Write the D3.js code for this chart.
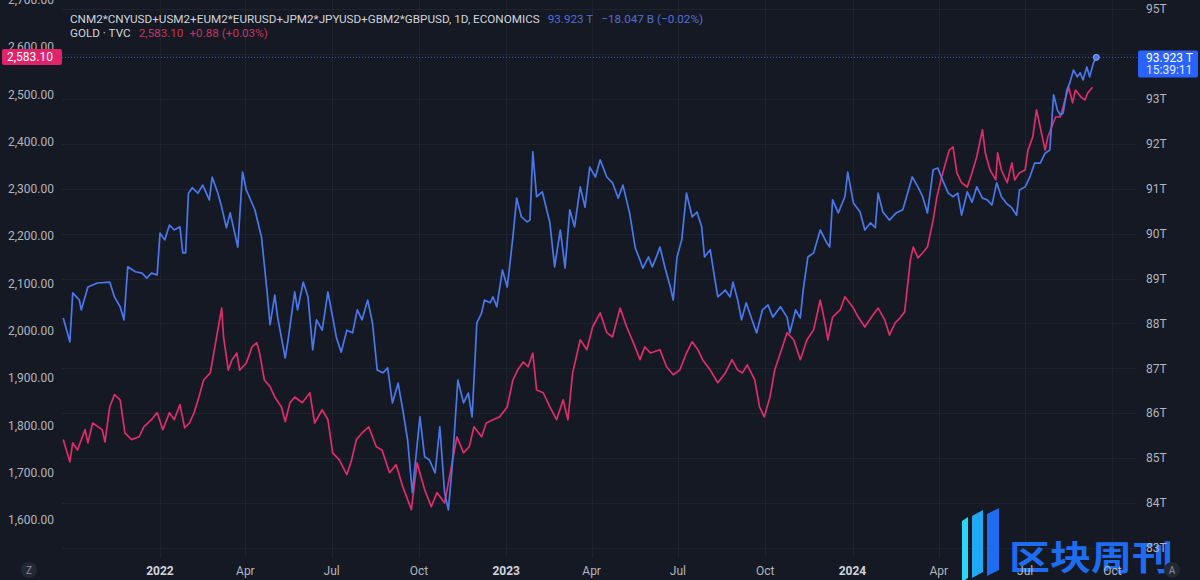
<!DOCTYPE html>
<html><head><meta charset="utf-8">
<script src="https://cdn.jsdelivr.net/npm/d3@7"></script>
<style>
html,body{margin:0;padding:0;background:#151924;}
svg{display:block;font-family:Roboto,"Noto Sans",sans-serif;}
</style></head>
<body><svg id="c" width="1200" height="580"></svg>
<script>
// ---- DATA ----
const m2Series = [ // global M2 in USD, trillions
["2021-09-21",88.12],["2021-09-28",87.59],["2021-10-01",88.68],["2021-10-08",88.52],["2021-10-10",88.30],["2021-10-17",88.81],["2021-10-27",88.90],["2021-11-09",88.92],["2021-11-14",88.59],["2021-11-20",88.37],["2021-11-24",88.08],["2021-11-28",89.26],["2021-12-06",89.15],["2021-12-13",89.12],["2021-12-18",89.01],["2021-12-23",89.12],["2021-12-29",89.08],
["2022-01-01",90.01],["2022-01-06",89.86],["2022-01-11",90.19],["2022-01-16",90.08],["2022-01-22",90.15],["2022-01-25",89.57],["2022-01-28",89.57],["2022-01-31",90.90],["2022-02-04",91.02],["2022-02-10",90.90],["2022-02-15",91.08],["2022-02-22",90.75],["2022-02-25",91.26],["2022-03-03",90.90],["2022-03-07",90.59],["2022-03-12",90.13],["2022-03-16",90.46],["2022-03-24",89.70],["2022-03-29",91.37],["2022-04-02",90.97],["2022-04-11",90.53],["2022-04-18",89.92],["2022-04-24",88.68],["2022-04-27",87.97],["2022-05-02",88.63],["2022-05-05",88.14],["2022-05-13",87.23],["2022-05-16",87.63],["2022-05-23",88.70],["2022-05-26",88.30],["2022-06-01",88.92],["2022-06-06",88.59],["2022-06-11",87.41],["2022-06-15",88.08],["2022-06-21",87.85],["2022-06-27",88.70],["2022-07-02",88.14],["2022-07-06",87.68],["2022-07-11",87.36],["2022-07-17",87.85],["2022-07-23",87.79],["2022-07-28",88.30],["2022-08-02",88.08],["2022-08-08",88.52],["2022-08-13",88.01],["2022-08-18",86.96],["2022-08-24",86.90],["2022-08-29",87.01],["2022-09-03",86.23],["2022-09-09",86.67],["2022-09-14",86.07],["2022-09-19",85.41],["2022-09-24",84.23],["2022-10-02",85.92],["2022-10-07",85.03],["2022-10-12",84.96],["2022-10-18",84.67],["2022-10-23",85.70],["2022-10-28",84.23],["2022-11-01",83.85],["2022-11-05",84.81],["2022-11-11",86.74],["2022-11-17",86.23],["2022-11-22",86.45],["2022-11-26",85.92],["2022-12-01",88.01],["2022-12-06",88.23],["2022-12-09",88.52],["2022-12-15",88.46],["2022-12-18",88.59],["2022-12-22",88.37],["2022-12-28",89.19],
["2023-01-02",88.81],["2023-01-05",89.35],["2023-01-08",89.92],["2023-01-12",90.79],["2023-01-17",90.37],["2023-01-23",90.26],["2023-01-26",90.30],["2023-01-29",91.82],["2023-02-02",90.82],["2023-02-08",90.93],["2023-02-16",90.24],["2023-02-21",89.26],["2023-02-27",90.08],["2023-03-04",89.23],["2023-03-09",90.53],["2023-03-14",90.15],["2023-03-20",91.04],["2023-03-25",90.59],["2023-03-30",91.48],["2023-04-05",91.26],["2023-04-10",91.64],["2023-04-17",91.26],["2023-04-23",91.13],["2023-04-29",90.79],["2023-05-04",91.08],["2023-05-11",90.46],["2023-05-17",89.68],["2023-05-22",89.41],["2023-05-25",89.23],["2023-05-31",89.48],["2023-06-04",89.26],["2023-06-09",89.52],["2023-06-12",89.70],["2023-06-18",89.19],["2023-06-23",88.81],["2023-06-26",88.52],["2023-06-30",89.48],["2023-07-05",89.86],["2023-07-10",90.90],["2023-07-16",90.37],["2023-07-21",90.48],["2023-07-26",90.15],["2023-07-29",89.48],["2023-08-04",89.64],["2023-08-09",88.97],["2023-08-12",88.59],["2023-08-20",88.74],["2023-08-25",88.59],["2023-08-28",88.92],["2023-09-02",88.52],["2023-09-06",88.08],["2023-09-11",88.46],["2023-09-17",88.08],["2023-09-22",87.79],["2023-09-28",88.30],["2023-10-04",88.41],["2023-10-09",88.14],["2023-10-17",88.37],["2023-10-24",88.14],["2023-10-27",87.79],["2023-11-02",88.30],["2023-11-07",88.12],["2023-11-10",88.74],["2023-11-15",89.48],["2023-11-21",89.57],["2023-11-28",90.08],["2023-12-05",89.79],["2023-12-08",89.70],["2023-12-11",90.75],["2023-12-17",90.46],["2023-12-24",90.82],["2023-12-27",91.37],
["2024-01-02",90.68],["2024-01-09",90.48],["2024-01-14",90.08],["2024-01-20",90.24],["2024-01-25",90.13],["2024-01-28",90.90],["2024-02-02",90.48],["2024-02-09",90.30],["2024-02-16",90.46],["2024-02-23",90.53],["2024-02-27",90.82],["2024-03-04",91.26],["2024-03-10",91.04],["2024-03-15",90.82],["2024-03-20",90.46],["2024-03-26",91.42],["2024-03-31",91.46],["2024-04-05",91.19],["2024-04-11",90.90],["2024-04-16",90.82],["2024-04-21",90.90],["2024-04-25",90.41],["2024-05-01",90.93],["2024-05-06",90.70],["2024-05-11",91.04],["2024-05-17",90.79],["2024-05-22",90.75],["2024-05-27",90.64],["2024-06-01",91.13],["2024-06-06",90.82],["2024-06-11",90.68],["2024-06-17",90.57],["2024-06-22",90.41],["2024-06-25",90.97],["2024-07-01",91.04],["2024-07-06",91.26],["2024-07-11",91.57],["2024-07-17",91.57],["2024-07-22",91.79],["2024-07-27",91.86],["2024-07-31",93.09],["2024-08-04",92.75],["2024-08-07",92.64],["2024-08-10",92.68],["2024-08-14",93.20],["2024-08-17",93.35],["2024-08-21",93.64],["2024-08-25",93.49],["2024-08-28",93.58],["2024-08-31",93.42],["2024-09-04",93.71],["2024-09-07",93.49],["2024-09-11",93.80],["2024-09-14",93.923]
];
const goldSeries = [ // GOLD (TVC), USD/oz
["2021-09-21",1770],["2021-09-28",1723],["2021-10-01",1763],["2021-10-06",1748],["2021-10-14",1791],["2021-10-17",1763],["2021-10-22",1805],["2021-11-01",1791],["2021-11-04",1765],["2021-11-09",1839],["2021-11-14",1865],["2021-11-20",1854],["2021-11-25",1784],["2021-12-02",1770],["2021-12-10",1776],["2021-12-15",1797],["2021-12-23",1812],["2021-12-29",1827],
["2022-01-04",1791],["2022-01-11",1827],["2022-01-16",1812],["2022-01-22",1844],["2022-01-27",1795],["2022-02-01",1805],["2022-02-06",1827],["2022-02-11",1860],["2022-02-16",1896],["2022-02-23",1911],["2022-02-26",1945],["2022-03-07",2048],["2022-03-09",1987],["2022-03-14",1917],["2022-03-18",1939],["2022-03-23",1953],["2022-03-26",1917],["2022-04-02",1932],["2022-04-08",1966],["2022-04-13",1975],["2022-04-16",1953],["2022-04-21",1896],["2022-04-27",1882],["2022-05-02",1860],["2022-05-09",1839],["2022-05-13",1808],["2022-05-18",1848],["2022-05-23",1860],["2022-05-31",1848],["2022-06-08",1869],["2022-06-13",1805],["2022-06-21",1833],["2022-06-27",1812],["2022-07-02",1742],["2022-07-09",1727],["2022-07-17",1696],["2022-07-22",1727],["2022-07-27",1770],["2022-08-02",1784],["2022-08-09",1797],["2022-08-17",1755],["2022-08-23",1748],["2022-08-31",1700],["2022-09-07",1717],["2022-09-14",1670],["2022-09-23",1622],["2022-09-29",1721],["2022-10-07",1664],["2022-10-14",1628],["2022-10-20",1658],["2022-10-28",1636],["2022-11-03",1700],["2022-11-10",1776],["2022-11-17",1742],["2022-11-23",1755],["2022-11-28",1797],["2022-12-06",1776],["2022-12-11",1805],["2022-12-18",1812],["2022-12-25",1818],
["2023-01-02",1839],["2023-01-08",1896],["2023-01-13",1917],["2023-01-19",1934],["2023-01-24",1924],["2023-01-29",1953],["2023-02-02",1875],["2023-02-09",1869],["2023-02-16",1839],["2023-02-23",1812],["2023-03-02",1854],["2023-03-07",1812],["2023-03-12",1911],["2023-03-20",1981],["2023-03-27",1960],["2023-04-02",2008],["2023-04-10",2038],["2023-04-17",1996],["2023-04-23",1987],["2023-05-01",2048],["2023-05-08",2008],["2023-05-15",1975],["2023-05-22",1939],["2023-05-27",1966],["2023-06-02",1953],["2023-06-12",1960],["2023-06-19",1924],["2023-06-26",1907],["2023-07-03",1917],["2023-07-10",1953],["2023-07-16",1977],["2023-07-22",1960],["2023-07-27",1939],["2023-08-04",1917],["2023-08-12",1890],["2023-08-20",1911],["2023-08-27",1939],["2023-09-02",1917],["2023-09-07",1911],["2023-09-12",1928],["2023-09-20",1896],["2023-09-25",1839],["2023-09-30",1818],["2023-10-06",1860],["2023-10-11",1917],["2023-10-17",1953],["2023-10-24",1996],["2023-10-31",1981],["2023-11-07",1939],["2023-11-14",1981],["2023-11-21",2002],["2023-11-28",2065],["2023-12-03",2017],["2023-12-06",1981],["2023-12-11",2029],["2023-12-19",2044],["2023-12-24",2072],
["2024-01-01",2051],["2024-01-07",2029],["2024-01-14",2008],["2024-01-21",2029],["2024-01-28",2048],["2024-02-04",2023],["2024-02-09",1991],["2024-02-15",2017],["2024-02-20",2027],["2024-02-25",2040],["2024-03-02",2150],["2024-03-05",2177],["2024-03-10",2154],["2024-03-15",2165],["2024-03-20",2177],["2024-03-26",2234],["2024-03-30",2283],["2024-04-04",2325],["2024-04-09",2361],["2024-04-12",2382],["2024-04-16",2389],["2024-04-20",2334],["2024-04-25",2313],["2024-05-01",2304],["2024-05-06",2334],["2024-05-11",2368],["2024-05-17",2425],["2024-05-20",2376],["2024-05-25",2340],["2024-05-31",2319],["2024-06-02",2376],["2024-06-06",2340],["2024-06-12",2313],["2024-06-17",2355],["2024-06-20",2319],["2024-06-25",2334],["2024-07-01",2340],["2024-07-04",2382],["2024-07-09",2410],["2024-07-13",2467],["2024-07-16",2439],["2024-07-22",2382],["2024-07-25",2410],["2024-08-02",2452],["2024-08-07",2452],["2024-08-12",2488],["2024-08-16",2515],["2024-08-20",2482],["2024-08-23",2509],["2024-08-29",2494],["2024-09-02",2488],["2024-09-05",2503],["2024-09-10",2515]
];
const goldTicks = [1600,1700,1800,1900,2000,2100,2200,2300,2400,2500,2600,2700];
const m2Ticks = [83,84,85,86,87,88,89,90,91,92,93,94,95];
const m2TicksHidden = [94]; // label covered by the last-value badge
const timeTicks = [["2022-01-01","2022",true],["2022-04-01","Apr"],["2022-07-01","Jul"],["2022-10-01","Oct"],["2023-01-01","2023",true],["2023-04-01","Apr"],["2023-07-01","Jul"],["2023-10-01","Oct"],["2024-01-01","2024",true],["2024-04-01","Apr"],["2024-07-01","Jul"],["2024-10-01","Oct"]];
const m2Legend = {name:"CNM2*CNYUSD+USM2+EUM2*EURUSD+JPM2*JPYUSD+GBM2*GBPUSD, 1D, ECONOMICS", last:"93.923 T", chg:"\u221218.047 B (\u22120.02%)", time:"15:39:11"};
const goldLegend = {name:"GOLD \u00b7 TVC", last:"2,583.10", chg:"+0.88 (+0.03%)"};

// ---- CHART ----
const svg = d3.select("#c");
const W=1200,H=580;
const plotL=62, plotR=1137, plotB=558;
const parse = d3.utcParse("%Y-%m-%d");
const x = d3.scaleUtc().domain([parse("2022-01-01"),parse("2024-01-01")]).range([160,852.5]);
const yG = d3.scaleLinear().domain([1600,2600]).range([520,47]);
const yM = d3.scaleLinear().domain([83,95]).range([548,9]);
const BG="#151924", GRID="#1f2330", TXT="#b2b5be";
const BLUE="#4a78ec", RED="#dd2d6a";

svg.append("rect").attr("width",W).attr("height",H).attr("fill",BG);

// grid
const g = svg.append("g");
g.selectAll("line.h").data(m2Ticks).join("line")
 .attr("x1",plotL).attr("x2",plotR).attr("y1",d=>Math.round(yM(d))+0.5).attr("y2",d=>Math.round(yM(d))+0.5)
 .attr("stroke",GRID).attr("stroke-width",1);
g.selectAll("line.v").data(timeTicks).join("line")
 .attr("x1",d=>Math.round(x(parse(d[0])))+0.5).attr("x2",d=>Math.round(x(parse(d[0])))+0.5)
 .attr("y1",0).attr("y2",plotB).attr("stroke",GRID).attr("stroke-width",1);

// watermark
const wm = svg.append("g");
wm.append("path").attr("d","M962,521 L968,517 L968,578 L962,582 Z").attr("fill","#2ad6f7");
wm.append("path").attr("d","M972,516 L983,510 L983,572 L972,578 Z").attr("fill","#1fa8f3");
wm.append("path").attr("d","M987,514 L999,508 L999,570 L987,576 Z").attr("fill","#1f6cf0");
wm.append("text").attr("x",1009).attr("y",570).attr("font-family","'Noto Sans CJK SC'").attr("font-weight",700)
 .attr("font-size",34).attr("textLength",164).attr("lengthAdjust","spacingAndGlyphs").attr("fill","#1f6cf0").text("区块周刊");

// lines
const lineM = d3.line().x(d=>x(parse(d[0]))).y(d=>yM(d[1]));
const lineG = d3.line().x(d=>x(parse(d[0]))).y(d=>yG(d[1]));
svg.append("path").datum(goldSeries).attr("d",lineG).attr("fill","none").attr("stroke",RED).attr("stroke-width",1.7).attr("stroke-linejoin","round");
svg.append("path").datum(m2Series).attr("d",lineM).attr("fill","none").attr("stroke",BLUE).attr("stroke-width",1.7).attr("stroke-linejoin","round");

// last value dotted line
const lastM = m2Series[m2Series.length-1];
svg.append("line").attr("x1",plotL).attr("x2",plotR).attr("y1",yM(lastM[1])).attr("y2",yM(lastM[1]))
 .attr("stroke","#4a78ec").attr("stroke-opacity",0.7).attr("stroke-width",1).attr("stroke-dasharray","1,2");
svg.append("circle").attr("cx",x(parse(lastM[0]))).attr("cy",yM(lastM[1])).attr("r",3)
 .attr("fill",BLUE).attr("stroke","#8fa9f5").attr("stroke-width",1);

// left axis
svg.selectAll("text.lg").data(goldTicks).join("text").attr("class","lg")
 .attr("x",54).attr("y",d=>yG(d)).attr("dy","0.35em").attr("text-anchor","end")
 .attr("font-size",12).attr("fill",TXT).text(d=>d3.format(",.2f")(d));
// right axis
svg.selectAll("text.rg").data(m2Ticks.filter(d=>!m2TicksHidden.includes(d))).join("text").attr("class","rg")
 .attr("x",1146).attr("y",d=>yM(d)).attr("dy","0.35em")
 .attr("font-size",12).attr("fill",TXT).text(d=>d+"T");
// bottom axis
svg.selectAll("text.bt").data(timeTicks).join("text").attr("class","bt")
 .attr("x",d=>x(parse(d[0]))).attr("y",575).attr("text-anchor","middle")
 .attr("font-size",12).attr("font-weight",d=>d[2]?700:400).attr("fill",d=>d[2]?"#d1d4dc":TXT).text(d=>d[1]);

// pink price label (left)
const lastG = +goldLegend.last.replace(/,/g,"");
svg.append("rect").attr("x",2).attr("y",yG(lastG)-6).attr("width",60).attr("height",16).attr("rx",2).attr("fill","#e0246a");
svg.append("text").attr("x",7).attr("y",yG(lastG)+6).attr("font-size",12).attr("fill","#fff").text(goldLegend.last);

// blue price label (right)
svg.append("rect").attr("x",1138).attr("y",yM(lastM[1])-7).attr("width",60).attr("height",27).attr("rx",2).attr("fill","#2962ff");
svg.append("text").attr("x",1146).attr("y",yM(lastM[1])+4.5).attr("font-size",12).attr("fill","#fff").text(m2Legend.last);
svg.append("text").attr("x",1146).attr("y",yM(lastM[1])+16.5).attr("font-size",12).attr("fill","#e6ecff").text(m2Legend.time);

// legend
const l1 = svg.append("text").attr("x",70).attr("y",23).attr("font-size",11.7).attr("fill","#d1d4dc");
l1.append("tspan").text(m2Legend.name);
l1.append("tspan").attr("dx",8).attr("fill","#4f6fd6").text(m2Legend.last);
l1.append("tspan").attr("dx",8).attr("fill","#4f6fd6").text(m2Legend.chg);
const l2 = svg.append("text").attr("x",70).attr("y",37).attr("font-size",11.7).attr("fill","#d1d4dc");
l2.append("tspan").text(goldLegend.name);
l2.append("tspan").attr("dx",8).attr("fill","#c8335f").text(goldLegend.last);
l2.append("tspan").attr("dx",6).attr("fill","#c8335f").text(goldLegend.chg);

// corner buttons
[[29,"Z"],[1172,"A"]].forEach(([cx,t])=>{
  svg.append("circle").attr("cx",cx).attr("cy",570).attr("r",8).attr("fill","#242835");
  svg.append("text").attr("x",cx).attr("y",570).attr("dy","0.35em").attr("text-anchor","middle").attr("font-size",10).attr("fill","#8a8e99").text(t);
});
</script></body></html>
